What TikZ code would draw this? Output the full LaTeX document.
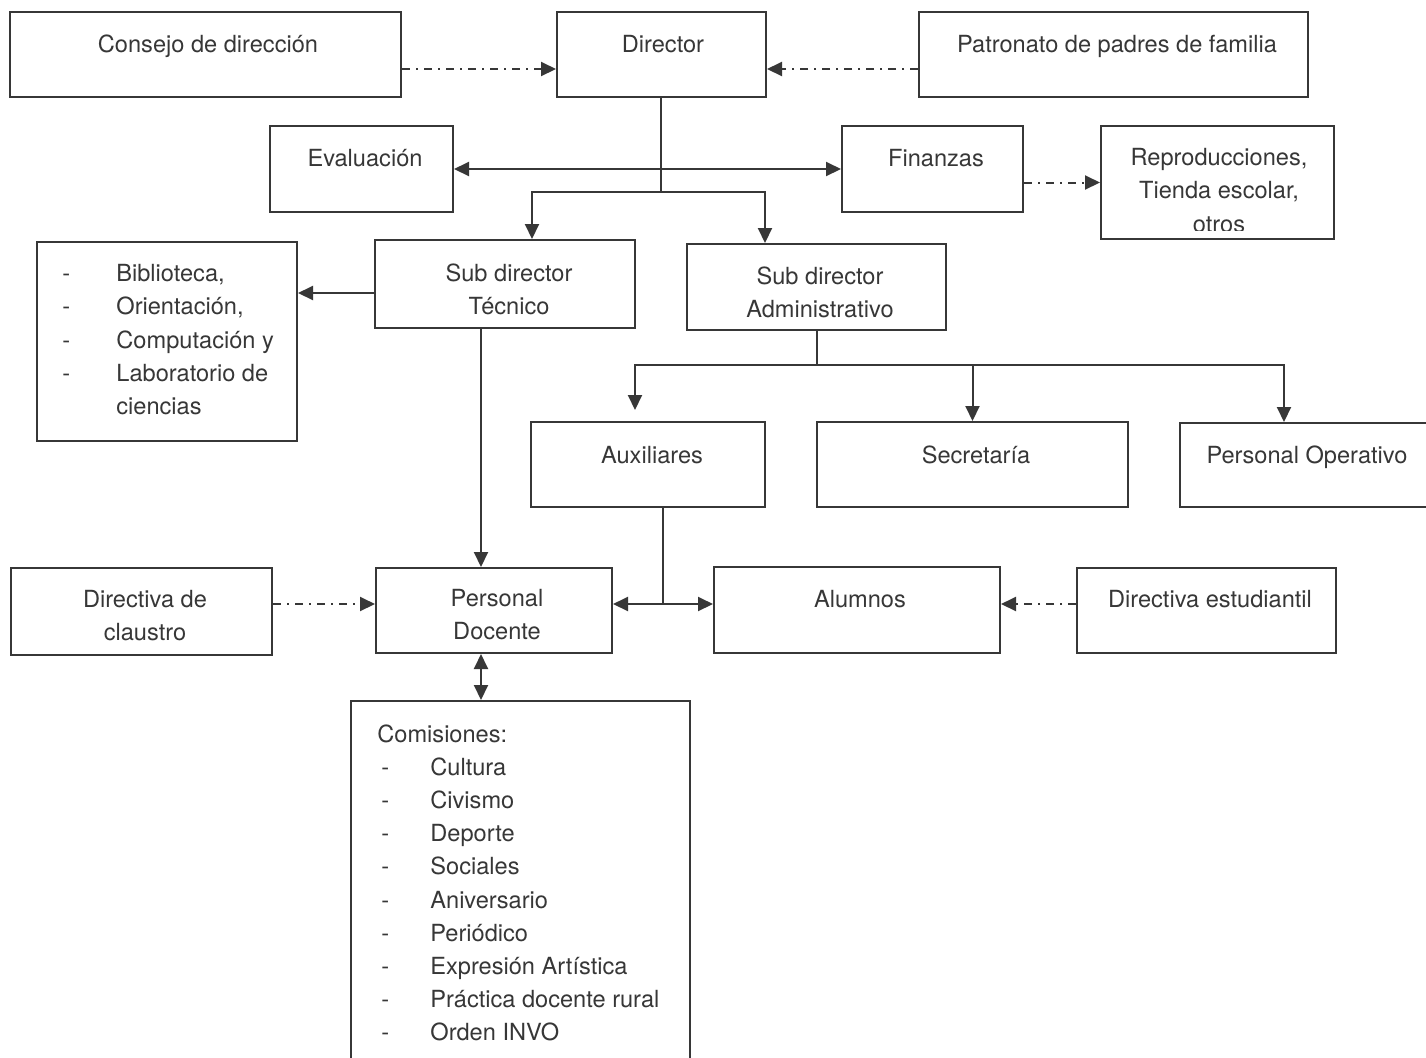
\documentclass[tikz,border=0pt]{standalone}
\usepackage{fontspec}
\setmainfont{TeX Gyre Heros}
\usetikzlibrary{arrows.meta,fit}
\definecolor{ink}{RGB}{55,55,55}
\begin{document}
\begin{tikzpicture}[x=0.5pt,y=-0.5pt,
  box/.style={draw=ink, line width=1pt, inner sep=0pt, fill=none},
  txt/.style={inner sep=0pt, anchor=north, align=center, text=ink,
    font=\fontsize{11.8}{16.6}\selectfont, execute at begin node=\strut},
  ltxt/.style={txt, anchor=north west, align=left},
  conn/.style={draw=ink, line width=1pt},
  arr/.style={conn, -{Triangle[length=7.5pt,width=7pt]}},
  darr/.style={conn, {Triangle[length=7.5pt,width=7pt]}-{Triangle[length=7.5pt,width=7pt]}},
  dd/.style={arr, dash pattern=on 4pt off 3pt on 1pt off 3pt}]
\useasboundingbox (0,0) rectangle (1426,1057);
\fill[white] (0,0) rectangle (1426,1057);

% boxes
\node[box, fit={(10,12) (401,97)}] (cons) {};
\node[box, fit={(557,12) (766,97)}] (dir) {};
\node[box, fit={(919,12) (1308,97)}] (pat) {};
\node[box, fit={(270,126) (453,212)}] (eval) {};
\node[box, fit={(842,126) (1023,212)}] (fin) {};
\node[box, fit={(1101,126) (1334,239)}] (rep) {};
\node[box, fit={(375,240) (635,328)}] (sdt) {};
\node[box, fit={(687,244) (946,330)}] (sda) {};
\node[box, fit={(37,242) (297,441)}] (bib) {};
\node[box, fit={(531,422) (765,507)}] (aux) {};
\node[box, fit={(817,422) (1128,507)}] (sec) {};
\node[box, fit={(1180,423) (1440,507)}] (po) {};
\node[box, fit={(11,568) (272,655)}] (dc) {};
\node[box, fit={(376,568) (612,653)}] (pd) {};
\node[box, fit={(714,567) (1000,653)}] (al) {};
\node[box, fit={(1077,568) (1336,653)}] (de) {};
\node[box, fit={(351,701) (690,1070)}] (com) {};

% texts
\node[txt] (consT) at (208,28.9) {Consejo de dirección};
\node[txt] (dirT) at (663,28.9) {Director};
\node[txt] (patT) at (1117,28.9) {Patronato de padres de familia};
\node[txt] (evalT) at (365,142.9) {Evaluación};
\node[txt] (finT) at (936,142.9) {Finanzas};
\begin{scope}
\clip (1101,126) rectangle (1334,230);
\node[txt] (repT) at (1219,148) {Reproducciones,\\Tienda escolar,\\otros};
\end{scope}
\node[txt] (sdtT) at (509,263) {Sub director\\Técnico};
\node[txt] (sdaT) at (820,266) {Sub director\\Administrativo};
\node[ltxt] (bibT) at (62,264) {\makebox[27pt][l]{-}Biblioteca,\\
  \makebox[27pt][l]{-}Orientación,\\
  \makebox[27pt][l]{-}Computación y\\
  \makebox[27pt][l]{-}Laboratorio de\\
  \hspace*{27pt}ciencias};
\node[txt] (auxT) at (652,439.9) {Auxiliares};
\node[txt] (secT) at (976,439.9) {Secretaría};
\node[txt] (poT) at (1307,439.9) {Personal Operativo};
\node[txt] (dcT) at (145,590) {Directiva de\\claustro};
\node[txt] (pdT) at (497,589) {Personal\\Docente};
\node[txt] (alT) at (860,583.9) {Alumnos};
\node[txt] (deT) at (1210,583.9) {Directiva estudiantil};
\node[ltxt] (comT) at (377,724) {Comisiones:\\
  \makebox[26.5pt][l]{\hspace{2pt}-}Cultura\\
  \makebox[26.5pt][l]{\hspace{2pt}-}Civismo\\
  \makebox[26.5pt][l]{\hspace{2pt}-}Deporte\\
  \makebox[26.5pt][l]{\hspace{2pt}-}Sociales\\
  \makebox[26.5pt][l]{\hspace{2pt}-}Aniversario\\
  \makebox[26.5pt][l]{\hspace{2pt}-}Periódico\\
  \makebox[26.5pt][l]{\hspace{2pt}-}Expresión Artística\\
  \makebox[26.5pt][l]{\hspace{2pt}-}Práctica docente rural\\
  \makebox[26.5pt][l]{\hspace{2pt}-}Orden INVO};

% helper coordinates
\coordinate (y69) at (0,69);
\coordinate (j1) at (661,192);
\coordinate (xa) at (532,0);
\coordinate (xb) at (765,0);
\coordinate (y293) at (0,293);
\coordinate (j2) at (817,365);
\coordinate (auxtip) at (635,410);
\coordinate (x1284) at (1284,0);
\coordinate (j3) at (663,604);
\coordinate (x481) at (481,0);

% connectors
\draw[dd] (cons.east |- y69) -- (dir.west |- y69);
\draw[dd] (pat.west |- y69) -- (dir.east |- y69);
\draw[conn] (j1 |- dir.south) -- (j1);
\draw[darr] (eval.east) -- (fin.west);
\draw[arr] (j1) -| (xa |- sdt.north);
\draw[arr] (j1) -| (xb |- sda.north);
\draw[dd] (fin.east |- rep.west) -- (rep.west);
\draw[arr] (sdt.west |- y293) -- (bib.east |- y293);
\draw[conn] (j2 |- sda.south) -- (j2);
\draw[arr] (j2) -| (auxtip);
\draw[arr] (j2) -| (sec.north);
\draw[arr] (j2) -| (x1284 |- po.north);
\draw[conn] (j3 |- aux.south) -- (j3);
\draw[darr] (pd.east |- j3) -- (al.west |- j3);
\draw[arr] (x481 |- sdt.south) -- (x481 |- pd.north);
\draw[dd] (dc.east |- j3) -- (pd.west |- j3);
\draw[dd] (de.west |- j3) -- (al.east |- j3);
\draw[darr] (x481 |- pd.south) -- (x481 |- com.north);
\end{tikzpicture}
\end{document}
